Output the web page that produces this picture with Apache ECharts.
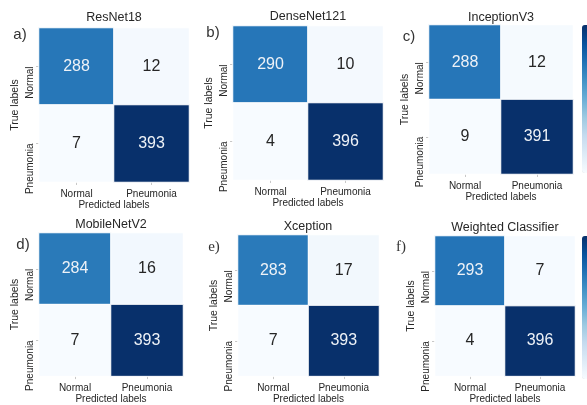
<!DOCTYPE html>
<html>
<head>
<meta charset="utf-8">
<script src="https://cdn.jsdelivr.net/npm/echarts@6/dist/echarts.min.js"></script>
<style>
  html, body { margin: 0; padding: 0; background: #fff; }
  #chart { width: 587px; height: 405px; }
</style>
</head>
<body>
<div id="chart"></div>
<script>
// Class names shared by both axes of every confusion matrix
const classLabels = ['Normal', 'Pneumonia'];

// Model names and panel tags
const modelNames = ['ResNet18', 'DenseNet121', 'InceptionV3', 'MobileNetV2', 'Xception', 'Weighted Classifier'];
const panelTags = ['a)', 'b)', 'c)', 'd)', 'e)', 'f)'];

// Confusion matrices: rows = true label, columns = predicted label
const resnet18Cm = [[288, 12], [7, 393]];
const densenet121Cm = [[290, 10], [4, 396]];
const inceptionV3Cm = [[288, 12], [9, 391]];
const mobilenetV2Cm = [[284, 16], [7, 393]];
const xceptionCm = [[283, 17], [7, 393]];
const weightedCm = [[293, 7], [4, 396]];

const matrices = [resnet18Cm, densenet121Cm, inceptionV3Cm, mobilenetV2Cm, xceptionCm, weightedCm];

// Panel placement (pixels)
const panelBoxes = [
  { left: 39,  top: 28,  width: 150, height: 154 },
  { left: 233, top: 26,  width: 150, height: 154 },
  { left: 429, top: 25,  width: 144, height: 149 },
  { left: 39,  top: 233, width: 144, height: 147 },
  { left: 238, top: 235, width: 141, height: 145 },
  { left: 435, top: 236, width: 140, height: 144 }
];
const titlePos = [[114, 18], [308, 17], [501, 18], [111, 225], [308, 227], [505, 228]];
const tagPos = [[20, 35], [213, 33], [409, 37], [23, 245], [214, 247], [401, 247]];
const colorbarPanels = [2, 5];

// Matplotlib "Blues" colour ramp
const blues = ['#f7fbff', '#deebf7', '#c6dbef', '#9ecae1', '#6baed6', '#4292c6', '#2171b5', '#08519c', '#08306b'];

const FONT = '"Liberation Sans", Arial, Helvetica, sans-serif';
const TEXT = '#262626';

const grid = [], xAxis = [], yAxis = [], series = [], visualMap = [], graphic = [];

matrices.forEach((cm, i) => {
  const flat = cm.flat();
  const lo = Math.min(...flat), hi = Math.max(...flat);
  const b = panelBoxes[i];
  grid.push({ left: b.left, top: b.top, width: b.width, height: b.height, containLabel: false });

  xAxis.push({
    type: 'category', gridIndex: i, data: classLabels,
    name: 'Predicted labels', nameLocation: 'middle', nameGap: 17,
    nameTextStyle: { fontFamily: FONT, fontSize: 10, color: TEXT },
    axisLine: { show: false },
    axisTick: { show: true, alignWithLabel: true, length: 3, lineStyle: { color: '#c8c8c8' } },
    axisLabel: { fontFamily: FONT, fontSize: 10, color: TEXT, margin: 7 },
    splitLine: { show: false }
  });

  yAxis.push({
    type: 'category', gridIndex: i, data: classLabels, inverse: true,
    name: 'True labels', nameLocation: 'middle', nameRotate: 90, nameGap: 18,
    nameTextStyle: { fontFamily: FONT, fontSize: 10.5, color: TEXT },
    axisLine: { show: false },
    axisTick: { show: true, alignWithLabel: true, length: 3, lineStyle: { color: '#c8c8c8' } },
    axisLabel: {
      fontFamily: FONT, fontSize: 10, color: TEXT, rotate: 90, margin: 9,
      align: 'right', verticalAlign: 'middle'
    },
    splitLine: { show: false }
  });

  const data = [];
  cm.forEach((row, r) => row.forEach((v, c) => {
    const t = (v - lo) / (hi - lo);
    // light annotation text on dark cells, dark text on pale cells
    data.push({ value: [c, r, v], label: { color: t > 0.5 ? '#eef2f7' : TEXT } });
  }));

  series.push({
    type: 'heatmap', xAxisIndex: i, yAxisIndex: i, data,
    itemStyle: { borderColor: '#ffffff', borderWidth: 1 },
    label: {
      show: true, fontFamily: FONT, fontSize: 16,
      formatter: p => String(p.value[2]),
      color: TEXT
    },
    emphasis: { disabled: true }
  });

  visualMap.push({
    type: 'continuous', seriesIndex: i, min: lo, max: hi,
    inRange: { color: blues },
    show: colorbarPanels.includes(i), calculable: false, text: null, showLabel: false,
    left: 582, top: b.top, itemWidth: 20, itemHeight: b.height - 1,
    padding: 0, hoverLink: false
  });

  graphic.push({
    type: 'text', x: titlePos[i][0], y: titlePos[i][1], silent: true,
    style: { text: modelNames[i], fill: TEXT, font: '12.5px ' + FONT, align: 'center', verticalAlign: 'middle' }
  });
  graphic.push({
    type: 'text', x: tagPos[i][0], y: tagPos[i][1], silent: true,
    style: {
      text: panelTags[i], fill: '#333333',
      font: (i >= 4 ? '15px "Liberation Serif", serif' : '15px ' + FONT),
      align: 'center', verticalAlign: 'middle'
    }
  });
});

const chart = echarts.init(document.getElementById('chart'), null, { renderer: 'canvas' });
chart.setOption({
  animation: false,
  backgroundColor: '#ffffff',
  grid, xAxis, yAxis, series, visualMap, graphic
});
</script>
</body>
</html>
